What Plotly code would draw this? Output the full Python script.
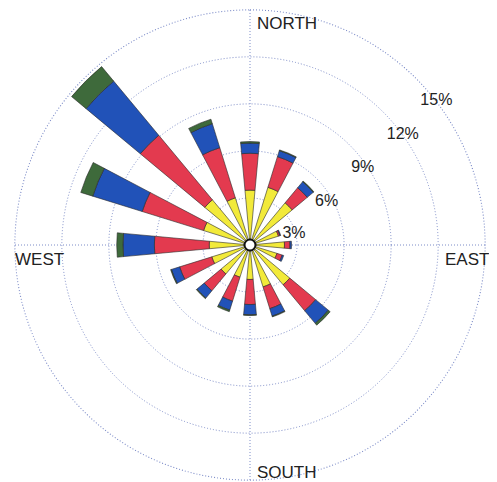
import plotly.graph_objects as go

directions = ["N", "NNE", "NE", "ENE", "E", "ESE", "SE", "SSE",
              "S", "SSW", "SW", "WSW", "W", "WNW", "NW", "NNW"]
bearings = [0, 22.5, 45, 67.5, 90, 112.5, 135, 157.5,
            180, 202.5, 225, 247.5, 270, 292.5, 315, 337.5]

# frequency (%) of each speed class per direction
class_1 = [3.5, 3.85, 3.5, 1.9, 2.2, 1.8, 3.3, 2.8, 2.2, 2.15, 2.4, 2.55, 2.6, 3.1, 3.75, 3.15]
class_2 = [2.35, 2.05, 1.25, 0.1, 0.35, 0.35, 2.15, 1.45, 1.6, 1.6, 1.4, 2.15, 3.5, 4.1, 5.35, 3.35]
class_3 = [0.65, 0.4, 0.5, 0.05, 0.1, 0.1, 1.05, 0.5, 0.65, 0.6, 0.6, 0.55, 2.0, 3.3, 4.5, 1.6]
class_4 = [0.1, 0.05, 0.05, 0.0, 0.0, 0.0, 0.15, 0.05, 0.05, 0.1, 0.05, 0.05, 0.4, 0.8, 1.2, 0.3]

radial_ticks = [3, 6, 9, 12, 15]
radial_labels = ["3%", "6%", "9%", "12%", "15%"]
compass_labels = ["NORTH", "EAST", "SOUTH", "WEST"]

# placement of the text labels
tick_label_r = [2.9, 5.6, 8.7, 12.0, 15.0]
tick_label_theta = [75.5, 60.8, 55.7, 54.3, 52.4]
compass_x = [0.5106, 1.0106, 0.5106, -0.002]
compass_y = [0.970, 0.470, 0.019, 0.470]
compass_xanchor = ["left", "right", "left", "left"]

series = [("class 1", class_1, "#f2ea3a"),
          ("class 2", class_2, "#e33a4f"),
          ("class 3", class_3, "#2152b8"),
          ("class 4", class_4, "#3e6a3b")]

grid_col = "#7d8cc8"
grid_dash = "1px,2px"
font_family = "Liberation Sans, Arial"

fig = go.Figure()

# outer ring at the top of the radial range (plotly omits the grid circle there)
ring_theta = list(range(0, 361, 2))
fig.add_trace(go.Scatterpolar(
    r=[radial_ticks[-1]] * len(ring_theta), theta=ring_theta, mode="lines",
    line=dict(color=grid_col, width=1.2, dash=grid_dash),
    showlegend=False, hoverinfo="skip"))

for name, vals, col in series:
    fig.add_trace(go.Barpolar(
        r=vals, theta=bearings, width=10.5, name=name,
        marker=dict(color=col, line=dict(color="#2a2a2a", width=0.6)),
        showlegend=False, hoverinfo="skip"))

# centre hub
fig.add_trace(go.Scatterpolar(
    r=[0], theta=[0], mode="markers",
    marker=dict(size=11, color="white", line=dict(color="#111", width=2)),
    showlegend=False, hoverinfo="skip"))

# percentage labels of the rings
fig.add_trace(go.Scatterpolar(
    r=tick_label_r, theta=tick_label_theta, mode="text", text=radial_labels,
    textposition="middle center", cliponaxis=False,
    textfont=dict(family=font_family, size=16, color="#222"),
    showlegend=False, hoverinfo="skip"))

for txt, x, y, xa in zip(compass_labels, compass_x, compass_y, compass_xanchor):
    fig.add_annotation(text=txt, x=x, y=y, xref="paper", yref="paper",
                       xanchor=xa, yanchor="middle", showarrow=False,
                       font=dict(family=font_family, size=17, color="#222"))

fig.update_layout(
    width=489, height=474,
    margin=dict(l=6, r=11, t=1, b=1),
    paper_bgcolor="white",
    polar=dict(
        bgcolor="white",
        barmode="stack",
        radialaxis=dict(
            range=[0, 15.05], tickvals=radial_ticks, showticklabels=False,
            showline=False, ticks="",
            gridcolor=grid_col, griddash=grid_dash, gridwidth=1.2),
        angularaxis=dict(
            rotation=90, direction="clockwise",
            tickvals=[0, 90, 180, 270], showticklabels=False, ticks="",
            showline=False,
            gridcolor=grid_col, griddash=grid_dash, gridwidth=1.2),
    ),
)

fig.write_html("out.html")
